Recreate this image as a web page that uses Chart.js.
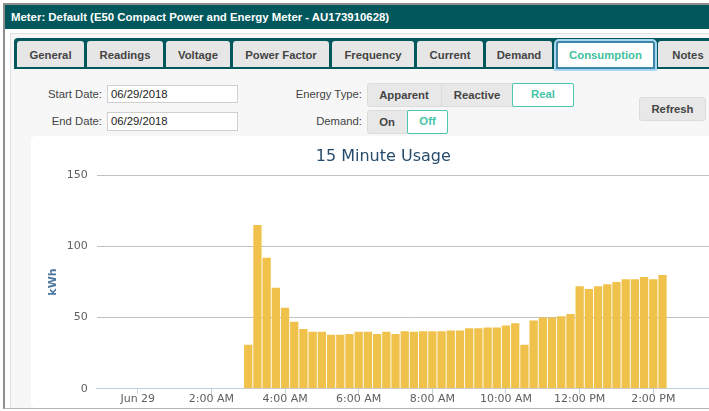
<!DOCTYPE html>
<html>
<head>
<meta charset="utf-8">
<script src="https://cdn.jsdelivr.net/npm/chart.js@4.4.0/dist/chart.umd.min.js"></script>
<style>
  body { margin: 0; width: 709px; height: 411px; overflow: hidden; background: #fff; position: relative;
         font-family: "Liberation Sans", Arial, sans-serif; }
  .abs { position: absolute; box-sizing: border-box; }
  #frame { left: 3px; top: 3px; width: 730px; height: 406px; border-left: 2px solid #8e8e8e; border-top: 2px solid #8e8e8e; border-bottom: 1px solid #b5b5b5; }
  #header { left: 5px; top: 5px; width: 730px; height: 24px; background: #00585c; color: #fff; font-weight: bold;
            font-size: 11.4px; line-height: 24px; padding-left: 6px; white-space: nowrap; }
  #panel { left: 10px; top: 33px; width: 730px; height: 375px; background: #f7f7f7; border-left: 1px solid #e0e0e0; border-top: 1px solid #e0e0e0; }
  #tabbar { left: 14px; top: 38px; width: 730px; height: 31px; background: #00585c; border-radius: 4px 0 0 0; }
  .tab { top: 41px; height: 26px; background: #e6e6e6; color: #444; font-weight: bold; font-size: 11.3px;
         line-height: 26px; padding-top: 1px; text-align: center; border-radius: 3px 3px 0 0; white-space: nowrap; }
  .tab.active { top: 41px; height: 28px; background: #fff; color: #3fbf9f; border: 2px solid #3b86a4;
                box-shadow: 0 0 0 2px #a9d6f3; line-height: 24px; padding-top: 0; }
  .lbl { font-size: 11.3px; color: #444; text-align: right; white-space: nowrap; }
  .inp { background: #fff; border: 1px solid #cfcfcf; font-size: 11.3px; color: #222; padding-left: 3px; line-height: 16px; }
  .grp { background: #e8e8e8; border: 1px solid #dcdcdc; border-radius: 3px; }
  .btn { font-weight: bold; font-size: 11.3px; color: #444; text-align: center; white-space: nowrap; }
  .btn.on { background: #fff; color: #45c4a7; border: 1.5px solid #4ac8ac; border-radius: 2px; }
  #chartBox { left: 31px; top: 136px; width: 700px; height: 272px; background: #fff; border-radius: 5px; }
  #chartWrap { left: 31px; top: 137px; width: 693px; height: 268px; }
</style>
</head>
<body>
<div class="abs" id="panel"></div>
<div class="abs" id="frame"></div>
<div class="abs" id="header">Meter: Default (E50 Compact Power and Energy Meter - AU173910628)</div>
<div class="abs" id="tabbar"></div>
<div class="abs tab" style="left:17px;width:67px">General</div>
<div class="abs tab" style="left:87px;width:76px">Readings</div>
<div class="abs tab" style="left:166px;width:64px">Voltage</div>
<div class="abs tab" style="left:233px;width:96px">Power Factor</div>
<div class="abs tab" style="left:332px;width:82px">Frequency</div>
<div class="abs tab" style="left:417px;width:66px">Current</div>
<div class="abs tab" style="left:486px;width:66px">Demand</div>
<div class="abs tab active" style="left:556px;width:99px">Consumption</div>
<div class="abs tab" style="left:658px;width:60px">Notes</div>

<div class="abs lbl" style="left:20px;top:87px;width:82px;line-height:15px">Start Date:</div>
<div class="abs inp" style="left:107px;top:85px;width:131px;height:18px">06/29/2018</div>
<div class="abs lbl" style="left:20px;top:114px;width:82px;line-height:15px">End Date:</div>
<div class="abs inp" style="left:107px;top:112px;width:131px;height:19px">06/29/2018</div>

<div class="abs lbl" style="left:260px;top:87px;width:102px;line-height:15px">Energy Type:</div>
<div class="abs grp" style="left:367px;top:83px;width:207px;height:24px"></div>
<div class="abs btn" style="left:367px;top:83px;width:74px;height:24px;line-height:24px">Apparent</div>
<div class="abs btn" style="left:441px;top:83px;width:71px;height:24px;line-height:24px;border-left:1px solid #dcdcdc">Reactive</div>
<div class="abs btn on" style="left:512px;top:83px;width:62px;height:24px;line-height:21px">Real</div>

<div class="abs lbl" style="left:260px;top:114px;width:102px;line-height:15px">Demand:</div>
<div class="abs grp" style="left:367px;top:110px;width:81px;height:24px"></div>
<div class="abs btn" style="left:367px;top:110px;width:40px;height:24px;line-height:24px">On</div>
<div class="abs btn on" style="left:407px;top:110px;width:41px;height:24px;line-height:21px">Off</div>

<div class="abs grp btn" style="left:639px;top:97px;width:67px;height:24px;line-height:22px">Refresh</div>

<div class="abs" id="chartBox"></div>
<div class="abs" id="chartWrap"><canvas id="usageChart"></canvas></div>

<script>
// 15 minute intervals on Jun 29
const times = ['03:00','03:15','03:30','03:45','04:00','04:15','04:30','04:45',
  '05:00','05:15','05:30','05:45','06:00','06:15','06:30','06:45',
  '07:00','07:15','07:30','07:45','08:00','08:15','08:30','08:45',
  '09:00','09:15','09:30','09:45','10:00','10:15','10:30','10:45',
  '11:00','11:15','11:30','11:45','12:00','12:15','12:30','12:45',
  '13:00','13:15','13:30','13:45','14:00','14:15'];
const usage = [31, 115, 92, 71, 57, 47, 42, 40, 40, 38,
  38, 38.5, 40, 40, 38.5, 40, 38.5, 40.5, 40, 40.5,
  40.5, 40.5, 41, 41, 42.5, 42.5, 43, 43, 44.5, 46,
  31, 48, 50, 50, 51, 52.5, 72, 70, 72, 73.5,
  75, 77, 77, 78.5, 77, 80];
const tickHours = [0, 2, 4, 6, 8, 10, 12, 14];
const tickLabels = ['Jun 29', '2:00 AM', '4:00 AM', '6:00 AM', '8:00 AM', '10:00 AM', '12:00 PM', '2:00 PM'];
const yTicks = [0, 50, 100, 150];

function toHours(t) {
  const [h, m] = t.split(':').map(Number);
  return h + m / 60;
}

const points = times.map((t, i) => ({ x: toHours(t), y: usage[i] }));

new Chart(document.getElementById('usageChart'), {
  type: 'bar',
  data: {
    datasets: [{
      label: 'kWh',
      data: points,
      backgroundColor: '#f1c24b',
      borderWidth: 0,
      categoryPercentage: 1,
      barPercentage: 0.9
    }]
  },
  options: {
    responsive: true,
    maintainAspectRatio: false,
    animation: false,
    layout: { padding: { left: 11.5, right: 0, top: 0, bottom: 0 } },
    plugins: {
      legend: { display: false },
      tooltip: { enabled: false },
      title: {
        display: true,
        text: '15 Minute Usage',
        color: '#274b6d',
        font: { family: 'DejaVu Sans', size: 16, weight: 'normal' },
        padding: { top: 10, bottom: 9 }
      }
    },
    scales: {
      x: {
        type: 'linear',
        min: -1.115,
        max: 15.92,
        offset: false,
        afterBuildTicks: s => { s.ticks = tickHours.map(v => ({ value: v })); },
        grid: { offset: false, drawOnChartArea: false, drawTicks: true, tickLength: 5, color: '#c0d0e0' },
        border: { color: '#c0d0e0' },
        ticks: {
          color: '#606060',
          padding: -1,
          maxRotation: 0,
          autoSkip: false,
          font: { family: 'DejaVu Sans', size: 11 },
          callback: (v, i) => tickLabels[i]
        }
      },
      y: {
        min: 0,
        max: 150,
        afterBuildTicks: s => { s.ticks = yTicks.map(v => ({ value: v })); },
        grid: { color: '#c0c0c0', drawTicks: false },
        border: { display: false },
        ticks: {
          color: '#606060',
          padding: 9,
          font: { family: 'DejaVu Sans', size: 11 }
        },
        title: {
          display: true,
          text: 'kWh',
          color: '#4d759e',
          font: { family: 'DejaVu Sans', size: 11, weight: 'bold' },
          padding: { top: 4, bottom: -2 }
        }
      }
    }
  }
});
</script>
</body>
</html>
